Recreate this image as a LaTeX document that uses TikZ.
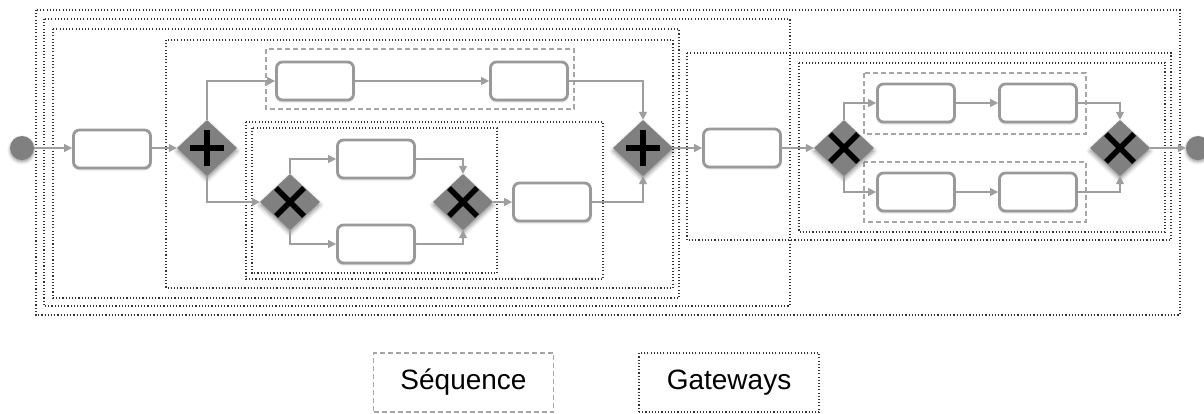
\documentclass[tikz,border=0pt]{standalone}
\usepackage{fontspec}
\setmainfont{Liberation Sans}
\usetikzlibrary{arrows.meta,shapes.geometric,shadows.blur}
\begin{document}
\begin{tikzpicture}[x=1pt,y=-1pt,
  task/.style={draw=black!40, line width=2.8pt, rounded corners=6pt, fill=white,
    minimum width=77pt, minimum height=38pt, inner sep=0pt,
    blur shadow={shadow xshift=0pt, shadow yshift=-1.5pt, shadow blur radius=2pt, shadow opacity=25}},
  gw/.style={diamond, fill=black!50, minimum width=60pt, minimum height=56pt, inner sep=0pt,
    blur shadow={shadow xshift=0pt, shadow yshift=-3pt, shadow blur radius=4pt, shadow opacity=45}},
  ev/.style={circle, fill=black!50, minimum size=24pt, inner sep=0pt,
    blur shadow={shadow xshift=0pt, shadow yshift=-2pt, shadow blur radius=3pt, shadow opacity=40}},
  flow/.style={draw=black!38, line width=1.4pt, -{Triangle[length=8pt,width=8pt]}},
  gdots/.style={draw=black!80, line width=1.2pt, dash pattern=on 1.1pt off 2.1pt},
  seqbox/.style={draw=black!35, line width=1.5pt, dash pattern=on 5pt off 3pt},
  sym/.style={line width=5.5pt, black},
  legend/.style={minimum width=180pt, minimum height=59pt, inner sep=0pt, font=\fontsize{28}{32}\selectfont}
]
\useasboundingbox (0,0) rectangle (1204,414);

% gateway blocks (dotted)
\draw[gdots] (36,10) rectangle (1180,315);
\draw[gdots] (44,19) rectangle (790,306);
\draw[gdots] (53,29) rectangle (679,298);
\draw[gdots] (166,40) rectangle (673,288);
\draw[gdots] (246,122) rectangle (603,279);
\draw[gdots] (252,128) rectangle (497,273);
\draw[gdots] (687,53) rectangle (1171,240);
\draw[gdots] (799,63) rectangle (1165,232);

% sequence blocks (dashed)
\draw[seqbox] (266,49) rectangle (574,109);
\draw[seqbox] (864,73) rectangle (1086,134);
\draw[seqbox] (864,162) rectangle (1086,222);

% events
\node[ev] (start) at (22,148) {};
\node[ev] (end) at (1198,148) {};

% tasks
\node[task] (t1) at (112,149) {};
\node[task] (ta) at (315,81) {};
\node[task] (tb) at (529,81) {};
\node[task] (tc) at (376,159) {};
\node[task] (td) at (376,244) {};
\node[task] (te) at (552,202) {};
\node[task] (tf) at (742,148) {};
\node[task] (g1) at (916,103) {};
\node[task] (g2) at (1038,103) {};
\node[task] (h1) at (916,192) {};
\node[task] (h2) at (1038,192) {};

% gateways
\node[gw] (p1) at (207,148) {};
\node[gw] (p2) at (643,148) {};
\node[gw] (x1) at (290,202) {};
\node[gw] (x2) at (463,202) {};
\node[gw] (x3) at (844,148) {};
\node[gw] (x4) at (1120,148) {};

\foreach \g in {p1,p2}{
  \draw[sym] (\g.center) ++(-17,0) -- ++(34,0);
  \draw[sym] (\g.center) ++(0,-18) -- ++(0,36);
}
\foreach \g in {x1,x2,x3,x4}{
  \draw[sym] (\g.center) ++(-14,-14) -- ++(28,28);
  \draw[sym] (\g.center) ++(-14,14) -- ++(28,-28);
}

% flows
\draw[flow] (start.east) -- (t1.west |- start.east);
\draw[flow] (t1.east |- p1.west) -- (p1.west);
\draw[flow] (p1.north) |- (ta.west);
\draw[flow] (ta.east) -- (tb.west);
\draw[flow] (tb.east) -| (p2.north);
\draw[flow] (p1.south) |- (x1.west);
\draw[flow] (x1.north) |- (tc.west);
\draw[flow] (x1.south) |- (td.west);
\draw[flow] (tc.east) -| (x2.north);
\draw[flow] (td.east) -| (x2.south);
\draw[flow] (x2.east) -- (te.west);
\draw[flow] (te.east) -| (p2.south);
\draw[flow] (p2.east) -- (tf.west);
\draw[flow] (tf.east) -- (x3.west);
\draw[flow] (x3.north) |- (g1.west);
\draw[flow] (g1.east) -- (g2.west);
\draw[flow] (g2.east) -| (x4.north);
\draw[flow] (x3.south) |- (h1.west);
\draw[flow] (h1.east) -- (h2.west);
\draw[flow] (h2.east) -| (x4.south);
\draw[flow] (x4.east) -- (end.west);

% legend
\node[legend, seqbox] (lseq) at (463.5,382.5) {Séquence};
\node[legend, gdots] (lgw) at (729,382.5) {Gateways};
\end{tikzpicture}
\end{document}
